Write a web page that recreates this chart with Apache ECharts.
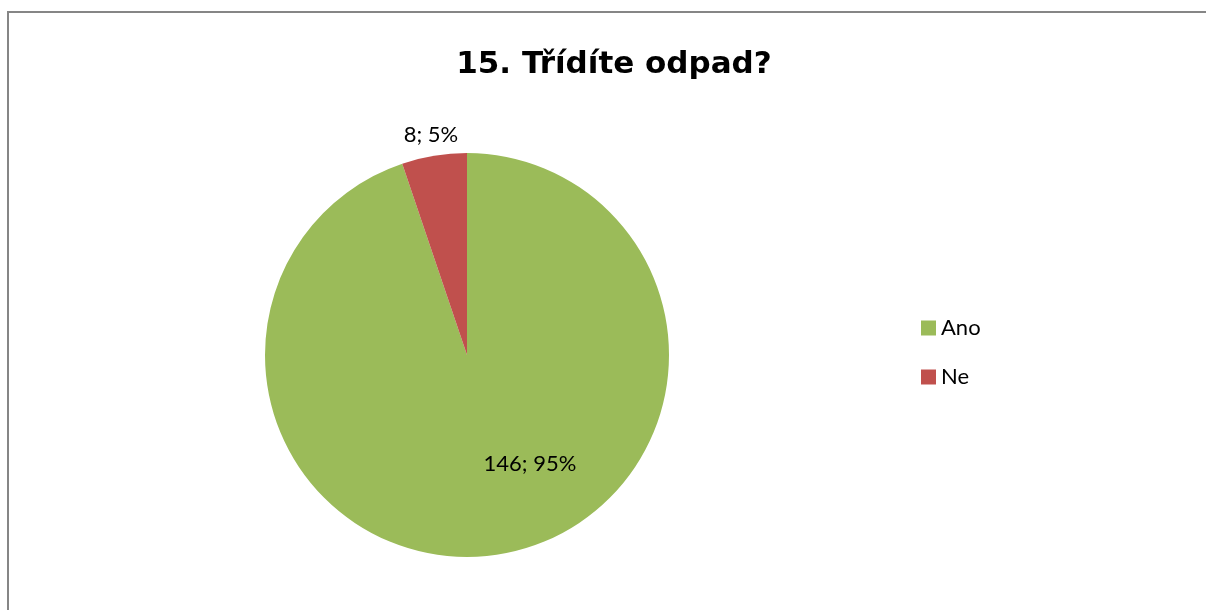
<!DOCTYPE html>
<html><head><meta charset="utf-8">
<script src="https://cdn.jsdelivr.net/npm/echarts@6/dist/echarts.min.js"></script>
<style>html,body{margin:0;padding:0;background:#fff}#c{width:1206px;height:610px}</style>
</head><body><div id="c"></div>
<script>
const categories = ['Ano', 'Ne'];
const values = [146, 8];
const colors = ['#9BBB59', '#C0504D'];
const titleText = '15. Třídíte odpad?';

const chart = echarts.init(document.getElementById('c'));
const total = values.reduce((a, b) => a + b, 0);
const labelPos = [
  { position: 'inside', offset: [46, 6] },
  { position: 'outside', offset: [29, -21] }
];
chart.setOption({
  animation: false,
  graphic: [{
    type: 'rect', shape: { x: 8, y: 12, width: 1300, height: 700 },
    style: { fill: 'none', stroke: '#868686', lineWidth: 2 }, silent: true
  }],
  title: {
    text: titleText, left: 609, textAlign: 'center', top: 44,
    textStyle: { fontFamily: 'DejaVu Sans', fontWeight: 'bold', fontSize: 31, color: '#000' }
  },
  legend: {
    orient: 'vertical', left: 921, top: 317, padding: 0,
    itemWidth: 15, itemHeight: 15, itemGap: 27,
    icon: 'rect',
    textStyle: { fontFamily: 'Lato', fontSize: 22, lineHeight: 21, color: '#000' },
    data: categories
  },
  series: [{
    type: 'pie', center: [467, 355], radius: 202, startAngle: 90, clockwise: true,
    labelLine: { show: false, length: 0, length2: 0 },
    data: categories.map((c, i) => ({
      name: c, value: values[i], itemStyle: { color: colors[i] },
      label: Object.assign({
        show: true, fontFamily: 'Lato', fontSize: 22, color: '#000',
        formatter: p => p.value + '; ' + Math.round(p.value / total * 100) + '%'
      }, labelPos[i])
    }))
  }]
});
</script></body></html>
